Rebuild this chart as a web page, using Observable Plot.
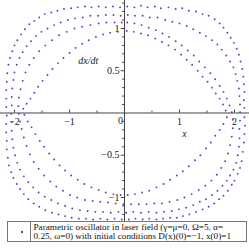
<!DOCTYPE html>
<html>
<head>
<meta charset="utf-8">
<script src="https://cdn.jsdelivr.net/npm/d3@7"></script>
<script src="https://cdn.jsdelivr.net/npm/@observablehq/plot@0.6"></script>
<style>
  html, body { margin: 0; padding: 0; background: #fff; }
  #chart svg { display: block; }
  #legend {
    position: absolute; left: 7px; top: 221px; width: 238px; height: 19px;
    border: 1px solid #777; background: #fff;
    font-family: "Liberation Serif", "DejaVu Serif", serif; font-size: 9.2px; line-height: 9.4px;
    color: #111;
  }
  #legend .sw { position: absolute; left: 0; top: 0; width: 22px; height: 19px; border-right: 1px solid #777; }
  #legend .sw span { position: absolute; left: 12.5px; top: 9px; width: 2px; height: 2px; background: #6a34cc; }
  #legend .tx { position: absolute; left: 25.5px; top: 0.5px; white-space: nowrap; }
</style>
</head>
<body>
<div id="chart"></div>
<div id="legend"><div class="sw"><span></span></div><div class="tx">Parametric oscillator in laser field (γ=μ=0, Ω=5, α=<br>0.25, ω=0) with initial conditions D(x)(0)=−1, x(0)=1</div></div>
<script>
// Phase-portrait points (x, dx/dt), loop by loop
const outerLoop = [
[0.05,1.26],[0.18,1.25],[0.3,1.27],[0.42,1.25],[0.55,1.26],[0.66,1.24],[0.8,1.25],[0.93,1.23],[1.05,1.24],[1.17,1.21],[1.3,1.2],[1.42,1.17],[1.53,1.15],[1.64,1.11],[1.73,1.06],[1.8,1.01],[1.87,0.95],[1.93,0.89],[1.99,0.83],[2.04,0.76],[2.08,0.69],[2.11,0.61],[2.14,0.52],[2.16,0.43],[2.17,0.34],[2.18,0.25],[2.17,0.15],[2.18,0.06],
[2.18,-0.05],[2.19,-0.15],[2.18,-0.25],[2.17,-0.35],[2.15,-0.46],[2.13,-0.57],[2.1,-0.65],[2.06,-0.72],[2.0,-0.8],[1.95,-0.85],[1.88,-0.92],[1.8,-0.98],[1.72,-1.02],[1.63,-1.07],[1.53,-1.11],[1.42,-1.14],[1.3,-1.17],[1.18,-1.2],[1.06,-1.22],[0.95,-1.24],[0.83,-1.24],[0.7,-1.25],[0.58,-1.26],[0.45,-1.25],[0.33,-1.26],[0.2,-1.25],[0.08,-1.26],
[-0.05,-1.26],[-0.18,-1.25],[-0.31,-1.26],[-0.44,-1.25],[-0.57,-1.26],[-0.7,-1.25],[-0.83,-1.25],[-0.96,-1.24],[-1.08,-1.22],[-1.2,-1.2],[-1.32,-1.18],[-1.44,-1.15],[-1.55,-1.11],[-1.65,-1.07],[-1.75,-1.02],[-1.83,-0.96],[-1.9,-0.9],[-1.96,-0.84],[-2.02,-0.77],[-2.06,-0.7],[-2.1,-0.62],[-2.12,-0.53],[-2.14,-0.43],[-2.14,-0.33],[-2.15,-0.23],[-2.15,-0.13],[-2.14,-0.03],
[-2.15,0.07],[-2.15,0.17],[-2.15,0.27],[-2.14,0.37],[-2.13,0.47],[-2.11,0.57],[-2.08,0.65],[-2.04,0.73],[-2.0,0.8],[-1.95,0.86],[-1.88,0.93],[-1.81,0.99],[-1.73,1.05],[-1.64,1.09],[-1.55,1.13],[-1.45,1.17],[-1.33,1.19],[-1.22,1.21],[-1.1,1.23],[-0.97,1.24],[-0.85,1.25],[-0.72,1.26],[-0.6,1.25],[-0.47,1.26],[-0.34,1.25],[-0.21,1.26],[-0.08,1.25]
];
const middleLoop = [
[0.06,1.16],[0.19,1.15],[0.33,1.15],[0.46,1.13],[0.6,1.13],[0.74,1.1],[0.87,1.08],[1.0,1.06],[1.13,1.03],[1.25,0.99],[1.37,0.95],[1.48,0.91],[1.59,0.86],[1.69,0.81],[1.77,0.75],[1.85,0.68],[1.92,0.61],[1.98,0.54],[2.02,0.46],[2.05,0.38],[2.08,0.29],[2.09,0.2],[2.1,0.1],[2.1,0.01],
[2.1,-0.09],[2.09,-0.19],[2.09,-0.3],[2.08,-0.4],[2.06,-0.5],[2.03,-0.59],[1.98,-0.67],[1.92,-0.74],[1.86,-0.8],[1.78,-0.86],[1.69,-0.92],[1.59,-0.97],[1.48,-1.02],[1.37,-1.05],[1.25,-1.09],[1.12,-1.12],[0.99,-1.14],[0.86,-1.16],[0.72,-1.17],[0.58,-1.18],[0.44,-1.17],[0.3,-1.18],[0.16,-1.17],[0.03,-1.18],
[-0.11,-1.17],[-0.25,-1.18],[-0.39,-1.17],[-0.53,-1.17],[-0.67,-1.16],[-0.81,-1.15],[-0.95,-1.13],[-1.08,-1.1],[-1.21,-1.07],[-1.33,-1.03],[-1.45,-0.99],[-1.56,-0.94],[-1.66,-0.88],[-1.75,-0.82],[-1.83,-0.75],[-1.9,-0.67],[-1.95,-0.59],[-1.99,-0.5],[-2.02,-0.41],[-2.04,-0.31],[-2.05,-0.21],[-2.05,-0.11],[-2.06,-0.01],
[-2.05,0.09],[-2.05,0.19],[-2.04,0.29],[-2.02,0.39],[-2.0,0.48],[-1.96,0.57],[-1.91,0.65],[-1.85,0.72],[-1.78,0.79],[-1.7,0.85],[-1.61,0.91],[-1.51,0.96],[-1.4,1.0],[-1.28,1.04],[-1.16,1.07],[-1.03,1.1],[-0.9,1.12],[-0.76,1.13],[-0.62,1.15],[-0.48,1.15],[-0.34,1.16],[-0.2,1.16],[-0.07,1.15]
];
const innerLoop = [
[0.05,1.07],[0.18,1.06],[0.31,1.04],[0.44,1.01],[0.57,0.98],[0.69,0.94],[0.81,0.9],[0.93,0.85],[1.04,0.8],[1.15,0.74],[1.26,0.68],[1.36,0.61],[1.46,0.54],[1.56,0.47],[1.65,0.4],[1.73,0.32],[1.8,0.25],[1.86,0.17],[1.91,0.09],[1.95,0.01],
[1.97,-0.08],[1.97,-0.18],[1.95,-0.28],[1.92,-0.38],[1.88,-0.48],[1.83,-0.57],[1.76,-0.65],[1.68,-0.73],[1.58,-0.8],[1.47,-0.86],[1.35,-0.91],[1.22,-0.96],[1.09,-1.0],[0.96,-1.03],[0.82,-1.05],[0.68,-1.07],[0.54,-1.07],[0.4,-1.08],[0.26,-1.08],[0.12,-1.08],
[-0.02,-1.08],[-0.16,-1.07],[-0.3,-1.06],[-0.44,-1.05],[-0.58,-1.04],[-0.72,-1.03],[-0.86,-1.0],[-0.99,-0.97],[-1.12,-0.92],[-1.24,-0.87],[-1.35,-0.81],[-1.46,-0.74],[-1.56,-0.66],[-1.65,-0.58],[-1.72,-0.49],[-1.78,-0.39],[-1.83,-0.29],[-1.87,-0.19],[-1.9,-0.1],[-1.92,-0.01],
[-1.93,0.08],[-1.92,0.18],[-1.89,0.28],[-1.85,0.38],[-1.8,0.48],[-1.73,0.57],[-1.65,0.65],[-1.55,0.73],[-1.44,0.8],[-1.32,0.86],[-1.19,0.92],[-1.05,0.96],[-0.91,1.0],[-0.77,1.02],[-0.62,1.04],[-0.47,1.06],[-0.33,1.07],[-0.18,1.07],[-0.05,1.07]
];
const innermostLoop = [
[0.04,0.97],[0.17,0.96],[0.3,0.94],[0.43,0.92],[0.56,0.88],[0.68,0.84],[0.8,0.8],[0.92,0.75],[1.03,0.69],[1.13,0.63],[1.23,0.57],[1.33,0.5],[1.42,0.43],[1.51,0.37],[1.59,0.3],[1.66,0.23],[1.73,0.17],[1.79,0.1],[1.84,0.03],
[1.86,-0.05],[1.8,-0.13],[1.73,-0.2],[1.65,-0.27],[1.57,-0.35],[1.48,-0.42],[1.38,-0.5],[1.28,-0.56],[1.17,-0.63],[1.06,-0.69],[0.95,-0.74],[0.83,-0.79],[0.71,-0.84],[0.58,-0.88],[0.45,-0.92],[0.32,-0.94],[0.19,-0.96],[0.06,-0.97],
[-0.07,-0.97],[-0.2,-0.96],[-0.34,-0.94],[-0.47,-0.91],[-0.6,-0.88],[-0.73,-0.84],[-0.85,-0.79],[-0.97,-0.74],[-1.08,-0.68],[-1.18,-0.62],[-1.28,-0.55],[-1.37,-0.48],[-1.46,-0.4],[-1.54,-0.33],[-1.62,-0.25],[-1.69,-0.17],[-1.76,-0.1],[-1.82,-0.02],
[-1.84,0.05],[-1.78,0.11],[-1.71,0.17],[-1.64,0.24],[-1.57,0.31],[-1.49,0.38],[-1.4,0.45],[-1.31,0.52],[-1.21,0.59],[-1.11,0.65],[-1.0,0.71],[-0.89,0.77],[-0.77,0.82],[-0.65,0.86],[-0.52,0.9],[-0.39,0.93],[-0.26,0.95],[-0.12,0.96]
];

const xMajorTicks = [-2, -1, 1, 2];
const xMinorTicks = [-1.5, -0.5, 0.5, 1.5];
const xTickLabels = ["−2", "−1", "1", "2"];
const yMajorTicks = [-1, -0.5, 0.5, 1];
const yMinorTicks = [-1.2, -1.1, -0.9, -0.8, -0.7, -0.6, -0.4, -0.3, -0.2, -0.1, 0.1, 0.2, 0.3, 0.4, 0.6, 0.7, 0.8, 0.9, 1.1, 1.2, 1.3];
const yTickLabels = ["−1", "−0.5", "0.5", "1"];

const points = [].concat(outerLoop, middleLoop, innerLoop, innermostLoop);
const axisColor = "#444";
const serif = "Liberation Serif, DejaVu Serif, serif";

const chart = Plot.plot({
  width: 249,
  height: 221,
  margin: 0,
  style: {fontFamily: serif, fontSize: "10px", background: "#fff", color: "#222"},
  x: {domain: [-2.2545, 2.2727], axis: null},
  y: {domain: [-1.284, 1.331], axis: null},
  marks: [
    Plot.ruleY([0], {stroke: axisColor, strokeWidth: 1}),
    Plot.ruleX([0], {stroke: axisColor, strokeWidth: 1}),
    Plot.ruleX(xMajorTicks, {x: d => d, y1: 0, y2: 0.035, stroke: axisColor}),
    Plot.ruleX(xMinorTicks, {x: d => d, y1: 0, y2: 0.022, stroke: axisColor}),
    Plot.ruleY(yMajorTicks, {y: d => d, x1: -0.06, x2: 0, stroke: axisColor}),
    Plot.ruleY(yMinorTicks, {y: d => d, x1: -0.035, x2: 0, stroke: axisColor}),
    Plot.text(xMajorTicks, {x: d => d, y: 0, dy: 9, text: (d, i) => xTickLabels[i], fill: "#222"}),
    Plot.text([0], {x: 0, y: 0, dy: 8, dx: -4, text: () => "0", fill: "#222"}),
    Plot.text(yMajorTicks, {x: 0, y: d => d, dx: -5, textAnchor: "end", text: (d, i) => yTickLabels[i], fill: "#222"}),
    Plot.text(["x"], {x: 1.09, y: -0.245, text: d => d, fontStyle: "italic", fill: "#222"}),
    Plot.text(["dx/dt"], {x: -0.66, y: 0.62, text: d => d, fontStyle: "italic", fill: "#222"}),
    Plot.dot(points, {x: d => d[0], y: d => d[1], r: 0.95, fill: "#6a34cc", stroke: "none"})
  ]
});
document.getElementById("chart").appendChild(chart);
</script>
</body>
</html>
